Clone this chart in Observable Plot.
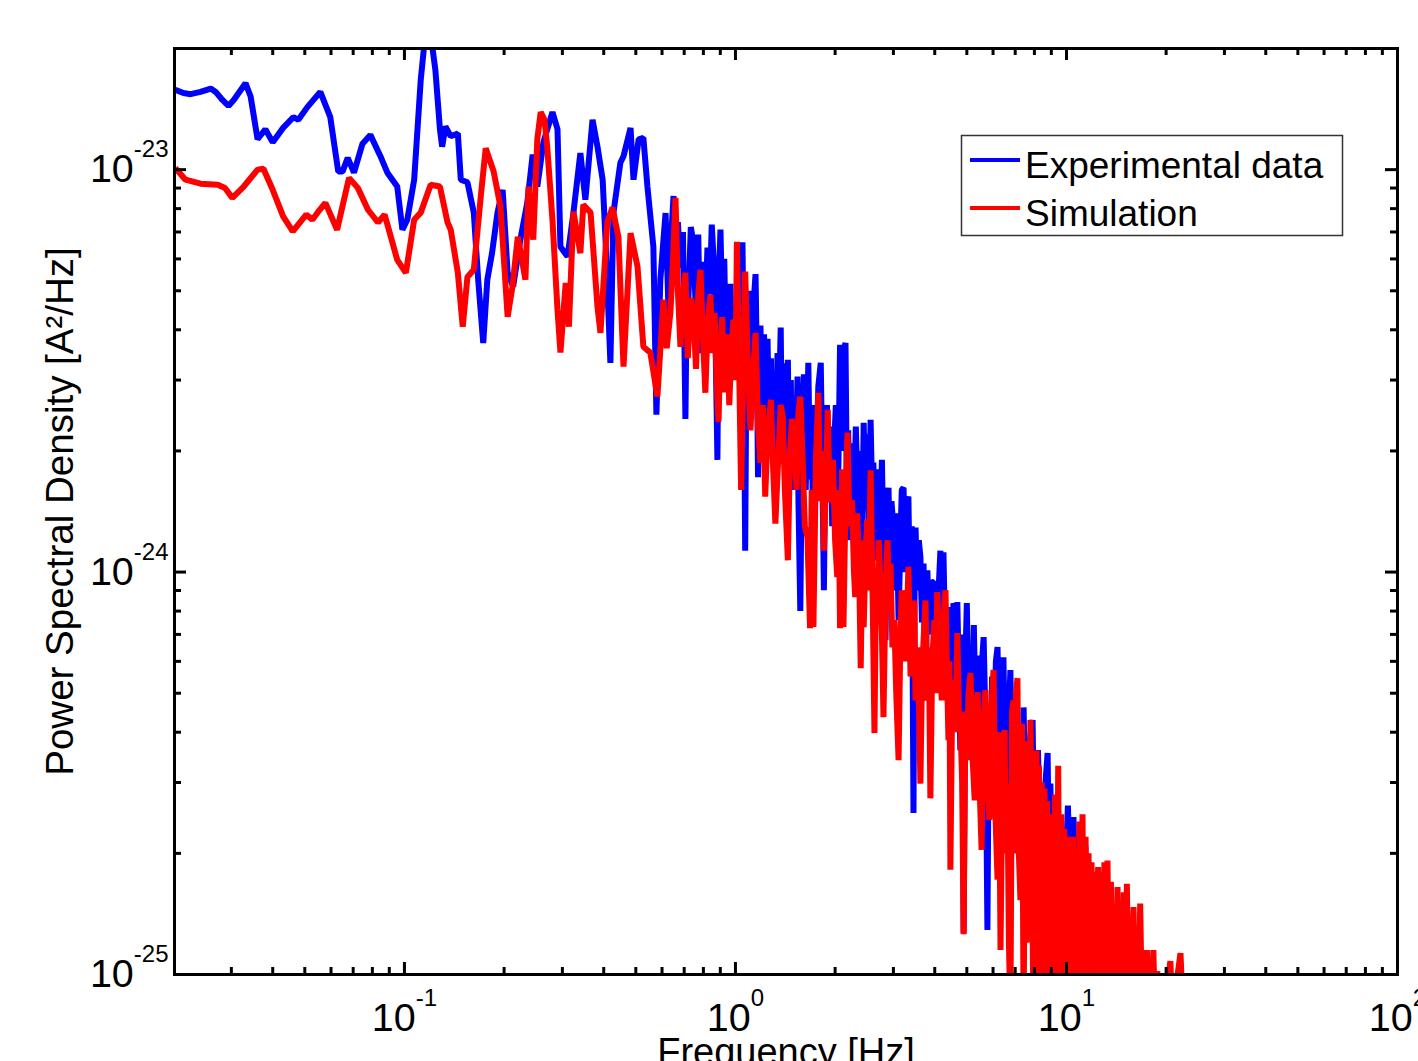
<!DOCTYPE html>
<html>
<head>
<meta charset="utf-8">
<script src="https://cdn.jsdelivr.net/npm/d3@7"></script>
<script src="https://cdn.jsdelivr.net/npm/@observablehq/plot@0.6"></script>
<style>
  html, body { margin: 0; padding: 0; background: white; overflow: hidden; }
  #wrap { position: relative; width: 1418px; height: 1061px; overflow: hidden; }
  #wrap svg { position: absolute; left: 0; top: 0; overflow: hidden; }
</style>
</head>
<body>
<div id="wrap"></div>
<script>
// PSD values are given in units of 1e-24 A^2/Hz; pairs are [frequency Hz, PSD]
const PSD_UNIT = 1e-24;

// Experimental data (blue)
const experimental = [
[0.0203,15.8],[0.0215,15.5],[0.0226,15.4],[0.0242,15.6],[0.0260,15.9],[0.0269,15.6],[0.0282,14.9],[0.0294,14.4],[0.0305,14.9],[0.0331,16.4],
[0.0343,15.2],[0.0360,11.9],[0.0380,12.6],[0.0400,11.7],[0.0430,12.7],[0.0462,13.5],[0.0478,13.3],[0.0509,14.3],[0.0557,15.6],[0.0597,13.5],
[0.0631,9.89],[0.0650,9.89],[0.0674,10.7],[0.0704,9.83],[0.0747,11.6],[0.0789,12.2],[0.0846,10.8],[0.0888,9.83],[0.0951,9.08],[0.0986,7.09],
[0.102,7.51],[0.107,9.44],[0.112,16.7],[0.116,22.3],[0.120,21.7],[0.124,17.7],[0.128,12.6],[0.130,11.4],[0.133,12.8],[0.138,12.1],
[0.145,12.3],[0.148,9.44],[0.155,9.30],[0.162,7.82],[0.167,5.33],[0.173,3.71],[0.178,5.33],[0.184,6.22],[0.191,7.82],[0.198,8.91],
[0.205,5.54],[0.213,5.12],[0.224,6.70],[0.235,8.27],[0.244,10.9],[0.252,9.08],[0.263,11.7],[0.280,13.9],[0.290,12.6],[0.296,6.43],
[0.311,6.08],[0.324,7.82],[0.340,11.0],[0.352,8.42],[0.370,13.3],[0.383,11.4],[0.397,9.44],[0.405,6.70],[0.419,3.31],[0.428,7.82],
[0.449,10.4],[0.459,10.8],[0.482,12.7],[0.492,9.44],[0.510,11.9],[0.527,12.0],[0.542,9.08],[0.565,6.43],[0.577,2.46],[0.593,5.33],
[0.615,7.8],[0.628,4.4],[0.64,6.9],[0.65,8.6],[0.66,6.2],[0.67,7.4],[0.682,5.7],[0.694,7.0],[0.706,2.4],[0.714,5.6],
[0.721,4.8],[0.733,7.2],[0.746,6.6],[0.758,4.6],[0.772,6.9],[0.784,3.5],[0.797,5.9],[0.810,4.3],[0.823,6.4],[0.836,4.9],
[0.848,7.3],[0.858,6.1],[0.870,3.9],[0.882,1.9],[0.891,5.4],[0.901,7.1],[0.913,4.2],[0.925,6.0],[0.936,3.6],[0.946,5.2],
[0.956,4.0],[0.966,5.2],[0.978,3.3],[0.99,4.6],[1.01,3.63],[1.02,5.4],[1.035,4.1],[1.05,6.6],[1.06,3.2],[1.07,1.13],
[1.08,3.9],[1.095,5.0],[1.11,4.4],[1.12,3.0],[1.135,4.7],[1.15,5.5],[1.16,3.4],[1.17,1.72],[1.18,3.6],[1.19,4.1],
[1.20,2.5],[1.22,3.9],[1.23,2.2],[1.25,3.8],[1.26,2.6],[1.28,3.4],[1.29,2.0],[1.31,3.1],[1.32,1.9],[1.34,3.5],
[1.35,2.4],[1.37,4.05],[1.38,2.2],[1.40,3.3],[1.42,1.8],[1.44,3.37],[1.45,2.1],[1.47,3.0],[1.48,1.6],[1.50,2.68],
[1.52,1.9],[1.54,3.06],[1.55,1.5],[1.57,0.80],[1.59,2.2],[1.61,3.1],[1.63,1.6],[1.66,3.31],[1.68,1.7],[1.70,2.6],
[1.72,0.955],[1.74,2.4],[1.76,2.13],[1.78,2.9],[1.81,3.31],[1.83,1.8],[1.85,0.902],[1.87,2.0],[1.89,2.6],[1.91,1.69],
[1.94,2.3],[1.96,1.3],[1.98,1.93],[2.01,2.6],[2.04,1.5],[2.07,3.67],[2.10,2.0],[2.13,3.6],[2.15,3.71],[2.17,1.6],
[2.19,2.25],[2.22,1.2],[2.25,2.09],[2.28,1.5],[2.31,2.3],[2.35,1.35],[2.38,2.0],[2.41,1.1],[2.44,2.35],[2.47,1.5],
[2.50,2.2],[2.53,1.3],[2.56,2.39],[2.59,1.5],[2.61,1.87],[2.64,1.2],[2.68,1.07],[2.71,1.8],[2.74,1.40],[2.77,1.9],
[2.80,1.1],[2.84,0.677],[2.87,1.5],[2.90,1.62],[2.93,1.0],[2.96,1.5],[3.00,1.29],[3.04,0.9],[3.07,1.4],[3.11,0.760],
[3.15,1.2],[3.18,1.6],[3.22,1.62],[3.26,1.0],[3.30,1.5],[3.33,1.54],[3.37,0.8],[3.41,1.3],[3.45,0.252],[3.48,1.1],
[3.50,1.29],[3.54,0.9],[3.58,1.2],[3.62,1.09],[3.66,0.75],[3.70,1.05],[3.75,0.480],[3.80,1.01],[3.85,0.7],[3.90,0.95],
[3.97,0.939],[4.02,0.6],[4.07,0.64],[4.12,0.95],[4.16,1.13],[4.21,0.7],[4.25,1.12],[4.31,0.6],[4.37,0.818],[4.42,0.55],
[4.46,0.429],[4.51,0.75],[4.56,0.837],[4.62,0.5],[4.68,0.842],[4.73,0.55],[4.78,0.361],[4.84,0.7],[4.89,0.127],[4.95,0.6],
[5.00,0.837],[5.06,0.45],[5.13,0.64],[5.19,0.42],[5.25,0.738],[5.31,0.45],[5.37,0.62],[5.43,0.539],[5.50,0.35],[5.56,0.60],
[5.62,0.689],[5.70,0.4],[5.77,0.129],[5.83,0.45],[5.89,0.304],[5.96,0.55],[6.04,0.38],[6.12,0.60],[6.19,0.651],[6.26,0.4],
[6.32,0.48],[6.38,0.3],[6.45,0.614],[6.52,0.35],[6.63,0.204],[6.70,0.45],[6.77,0.571],[6.85,0.3],[6.93,0.45],[7.01,0.361],
[7.10,0.22],[7.18,0.40],[7.26,0.271],[7.34,0.18],[7.42,0.461],[7.52,0.25],[7.63,0.172],[7.75,0.38],[7.90,0.429],[8.00,0.2],
[8.08,0.153],[8.14,0.30],[8.20,0.361],[8.35,0.2],[8.50,0.182],[8.64,0.30],[8.77,0.355],[8.85,0.2],[8.94,0.298],[9.1,0.14],
[9.28,0.153],[9.45,0.24],[9.59,0.242],[9.8,0.13],[10.1,0.263],[10.3,0.15],[10.5,0.246],[10.7,0.12],[10.9,0.153],[11.1,0.19],
[11.4,0.209],[11.6,0.11],[11.8,0.122],[12.0,0.16],[12.3,0.172],[12.5,0.09],[12.7,0.099]
];

// Simulation (red)
const simulation = [
[0.0203,10.1],[0.0218,9.44],[0.0242,9.23],[0.0273,9.17],[0.0287,9.0],[0.0302,8.51],[0.0327,9.08],[0.0360,10.0],[0.0375,10.05],[0.0400,8.91],
[0.0430,7.65],[0.0460,7.02],[0.0505,7.73],[0.0527,7.51],[0.0549,7.86],[0.0577,8.27],[0.0626,7.09],[0.0680,9.54],[0.0723,9.01],[0.0776,7.95],
[0.0832,7.39],[0.0871,7.73],[0.0888,7.31],[0.0951,5.97],[0.101,5.54],[0.107,7.51],[0.112,7.82],[0.120,9.17],[0.128,9.08],[0.135,7.39],
[0.138,7.09],[0.145,5.54],[0.150,4.07],[0.155,5.41],[0.162,5.64],[0.170,8.55],[0.176,11.3],[0.186,9.89],[0.195,8.10],[0.205,4.31],
[0.212,5.12],[0.220,6.81],[0.232,5.33],[0.237,9.08],[0.245,6.70],[0.252,11.9],[0.258,13.9],[0.265,13.3],[0.270,11.4],[0.280,7.51],
[0.290,4.48],[0.296,3.51],[0.307,5.23],[0.314,4.07],[0.324,7.86],[0.340,6.20],[0.347,8.18],[0.365,7.82],[0.383,4.56],[0.391,3.93],
[0.410,7.39],[0.425,8.05],[0.443,6.81],[0.459,3.24],[0.482,6.95],[0.506,5.74],[0.527,3.63],[0.553,3.51],[0.581,2.73],[0.606,4.75],
[0.62,3.6],[0.636,4.41],[0.648,6.0],[0.659,8.51],[0.670,5.0],[0.682,3.63],[0.694,4.9],[0.706,5.54],[0.718,3.4],[0.732,4.8],
[0.746,4.41],[0.760,3.2],[0.772,4.9],[0.784,5.64],[0.797,3.9],[0.811,2.79],[0.825,4.2],[0.840,4.89],[0.852,3.5],[0.865,4.4],
[0.877,3.0],[0.889,2.36],[0.900,3.6],[0.912,4.3],[0.922,2.8],[0.933,3.00],[0.945,3.9],[0.958,2.6],[0.972,3.6],[0.986,4.24],
[1.00,3.0],[1.01,6.62],[1.025,3.4],[1.04,1.60],[1.055,3.0],[1.07,5.58],[1.09,3.3],[1.11,2.25],[1.13,3.1],[1.15,3.93],
[1.17,2.3],[1.19,1.87],[1.21,2.6],[1.23,1.54],[1.25,2.2],[1.28,2.68],[1.30,1.8],[1.32,1.32],[1.35,2.0],[1.37,2.6],
[1.39,2.43],[1.41,1.6],[1.44,1.07],[1.46,1.9],[1.48,2.4],[1.50,2.25],[1.53,1.6],[1.55,2.5],[1.57,2.73],[1.60,1.8],
[1.62,1.3],[1.65,1.22],[1.68,0.725],[1.70,1.6],[1.72,0.730],[1.75,1.9],[1.78,2.79],[1.80,1.5],[1.83,2.0],[1.85,1.13],
[1.88,1.8],[1.90,2.53],[1.92,1.7],[1.94,1.49],[1.97,1.9],[2.00,1.2],[2.03,0.972],[2.05,1.6],[2.07,0.725],[2.10,1.8],
[2.12,0.730],[2.15,1.5],[2.18,2.22],[2.21,1.3],[2.25,1.51],[2.28,1.0],[2.30,0.866],[2.33,1.4],[2.36,1.1],[2.39,0.577],
[2.42,1.2],[2.44,0.730],[2.47,1.1],[2.50,1.35],[2.53,0.9],[2.56,1.79],[2.60,0.8],[2.63,0.398],[2.66,1.0],[2.68,0.773],
[2.71,1.2],[2.74,0.955],[2.77,0.7],[2.80,0.436],[2.84,0.9],[2.88,1.20],[2.91,0.8],[2.94,1.05],[2.98,0.65],[3.02,0.760],
[3.06,0.5],[3.11,0.341],[3.15,0.7],[3.18,0.9],[3.22,0.852],[3.27,0.6],[3.33,1.03],[3.38,0.55],[3.43,0.64],[3.47,0.85],
[3.50,0.480],[3.56,0.65],[3.62,0.298],[3.66,0.55],[3.70,0.677],[3.75,0.85],[3.80,0.480],[3.84,0.65],[3.88,0.274],[3.93,0.6],
[3.99,0.760],[4.03,0.5],[4.07,0.892],[4.13,0.65],[4.20,0.480],[4.25,0.75],[4.31,0.902],[4.35,0.6],[4.40,0.382],[4.43,0.6],
[4.46,0.182],[4.51,0.45],[4.56,0.539],[4.62,0.4],[4.68,0.705],[4.73,0.45],[4.78,0.429],[4.84,0.3],[4.89,0.126],[4.95,0.45],
[5.00,0.341],[5.06,0.5],[5.13,0.561],[5.20,0.35],[5.28,0.271],[5.33,0.45],[5.39,0.503],[5.46,0.3],[5.54,0.204],[5.61,0.42],
[5.69,0.509],[5.77,0.3],[5.85,0.242],[5.93,0.45],[6.02,0.571],[6.10,0.25],[6.19,0.172],[6.25,0.40],[6.32,0.115],[6.41,0.35],
[6.50,0.405],[6.56,0.2],[6.63,0.298],[6.70,0.12],[6.77,0.08],[6.85,0.45],[6.92,0.480],[6.98,0.2],[7.04,0.5],[7.11,0.545],
[7.18,0.2],[7.26,0.153],[7.34,0.42],[7.42,0.08],[7.52,0.38],[7.58,0.12],[7.63,0.341],[7.70,0.15],[7.78,0.429],[7.87,0.2],
[7.94,0.08],[8.00,0.30],[8.06,0.08],[8.12,0.36],[8.18,0.08],[8.26,0.33],[8.34,0.08],[8.42,0.30],[8.50,0.08],[8.58,0.29],
[8.66,0.08],[8.74,0.27],[8.82,0.08],[8.90,0.25],[8.98,0.08],[9.06,0.24],[9.14,0.08],[9.24,0.28],[9.34,0.08],[9.44,0.33],
[9.54,0.08],[9.64,0.25],[9.74,0.08],[9.84,0.23],[9.94,0.08],[10.04,0.21],[10.14,0.08],[10.24,0.22],[10.34,0.08],[10.46,0.22],
[10.58,0.08],[10.70,0.20],[10.82,0.08],[10.94,0.24],[11.06,0.08],[11.18,0.25],[11.30,0.08],[11.42,0.22],[11.54,0.08],[11.66,0.20],
[11.78,0.08],[11.90,0.19],[12.04,0.08],[12.18,0.18],[12.32,0.08],[12.46,0.185],[12.60,0.08],[12.74,0.18],[12.88,0.08],[13.02,0.19],
[13.16,0.08],[13.30,0.192],[13.46,0.08],[13.62,0.17],[13.78,0.08],[13.94,0.15],[14.10,0.08],[14.26,0.165],[14.42,0.08],[14.58,0.15],
[14.74,0.08],[14.90,0.16],[15.06,0.08],[15.22,0.168],[15.40,0.08],[15.58,0.14],[15.76,0.08],[15.94,0.147],[16.12,0.08],[16.30,0.13],
[16.50,0.08],[16.70,0.150],[16.90,0.08],[17.10,0.115],[17.30,0.08],[17.50,0.115],[17.70,0.08],[17.90,0.105],[18.10,0.08],[18.30,0.115],
[18.50,0.08],[18.80,0.102],[19.10,0.08],[19.40,0.10],[19.70,0.08],[20.6,0.108],[20.9,0.08],[22.1,0.113],[22.5,0.08]
];

// Axis ticks
const xMajor = [0.1, 1, 10, 100];
const xMinor = [0.03,0.04,0.05,0.06,0.07,0.08,0.09,0.2,0.3,0.4,0.5,0.6,0.7,0.8,0.9,2,3,4,5,6,7,8,9,20,30,40,50,60,70,80,90];
const yMajor = [1e-25, 1e-24, 1e-23];
const yMinor = [2e-25,3e-25,4e-25,5e-25,6e-25,7e-25,8e-25,9e-25,2e-24,3e-24,4e-24,5e-24,6e-24,7e-24,8e-24,9e-24,2e-23];

const seriesNames = ["Experimental data", "Simulation"];
const seriesColors = ["#0000ff", "#ff0000"];

const expData = experimental.map(([f, v]) => ({f, psd: v * PSD_UNIT}));
const simData = simulation.map(([f, v]) => ({f, psd: v * PSD_UNIT}));

const W = 1418, H = 1061;
const mL = 174, mR = 21, mT = 48, mB = 87;
const innerW = W - mL - mR, innerH = H - mT - mB;
const major = 12, minor = 7;
const LW = 6;
const FONT = "'Liberation Sans', Arial, Helvetica, sans-serif";
const fmt = d => "10^" + Math.round(Math.log10(d));

const chart = Plot.plot({
  width: W, height: H,
  marginLeft: mL, marginRight: mR, marginTop: mT, marginBottom: mB,
  style: {fontFamily: FONT, background: "white", color: "black"},
  x: {type: "log", domain: [0.0202, 100]},
  y: {type: "log", domain: [1e-25, 2.0e-23]},
  marks: [
    Plot.line(expData, {x: "f", y: "psd", stroke: seriesColors[0], strokeWidth: LW, clip: true, strokeLinejoin: "miter", strokeLinecap: "butt"}),
    Plot.line(simData, {x: "f", y: "psd", stroke: seriesColors[1], strokeWidth: LW, clip: true, strokeLinejoin: "miter", strokeLinecap: "butt"}),
    // inward ticks, bottom & top
    Plot.tickX(xMajor, {x: d => d, insetTop: innerH - major, stroke: "black", strokeWidth: 3}),
    Plot.tickX(xMajor, {x: d => d, insetBottom: innerH - major, stroke: "black", strokeWidth: 3}),
    Plot.tickX(xMinor, {x: d => d, insetTop: innerH - minor, stroke: "black", strokeWidth: 3}),
    Plot.tickX(xMinor, {x: d => d, insetBottom: innerH - minor, stroke: "black", strokeWidth: 3}),
    // inward ticks, left & right
    Plot.tickY(yMajor, {y: d => d, insetRight: innerW - major, stroke: "black", strokeWidth: 3}),
    Plot.tickY(yMajor, {y: d => d, insetLeft: innerW - major, stroke: "black", strokeWidth: 3}),
    Plot.tickY(yMinor, {y: d => d, insetRight: innerW - minor, stroke: "black", strokeWidth: 3}),
    Plot.tickY(yMinor, {y: d => d, insetLeft: innerW - minor, stroke: "black", strokeWidth: 3}),
    Plot.frame({stroke: "black", strokeWidth: 3}),
    Plot.axisX(xMajor, {tickSize: 0, tickPadding: 28, tickFormat: fmt, fontSize: 39.5, label: null}),
    Plot.axisY(yMajor, {tickSize: 0, tickPadding: 6, tickFormat: fmt, fontSize: 39.5, label: null}),
    Plot.text(["Power Spectral Density [A²/Hz]"], {text: d => d, frameAnchor: "left", textAnchor: "middle", dx: -114, rotate: -90, fontSize: 38.5}),
    Plot.text(["Frequency [Hz]"], {text: d => d, frameAnchor: "bottom", dy: 64, lineAnchor: "top", fontSize: 38})
  ]
});

// superscript exponents on tick labels
d3.select(chart)
  .selectAll('g[aria-label="x-axis tick label"] text, g[aria-label="y-axis tick label"] text')
  .each(function () {
    const parts = this.textContent.split("^");
    if (parts.length !== 2) return;
    this.textContent = parts[0];
    d3.select(this).append("tspan").attr("dy", -25).attr("font-size", 24).text(parts[1]);
  });

const wrap = document.getElementById("wrap");
wrap.appendChild(chart);

// Legend overlay (inside the plot area, as in the original)
const leg = d3.select(wrap).append("svg")
  .attr("width", W).attr("height", H)
  .style("pointer-events", "none")
  .style("font-family", FONT);
leg.append("rect").attr("x", 961.5).attr("y", 135.5).attr("width", 381).attr("height", 100)
  .attr("fill", "white").attr("stroke", "#333").attr("stroke-width", 1.5);
seriesNames.forEach((name, i) => {
  const yy = 160 + i * 48;
  leg.append("line").attr("x1", 970).attr("x2", 1020).attr("y1", yy).attr("y2", yy)
    .attr("stroke", seriesColors[i]).attr("stroke-width", 4);
  leg.append("text").attr("x", 1025).attr("y", yy + 18).attr("font-size", 37).attr("fill", "black").text(name);
});
</script>
</body>
</html>
